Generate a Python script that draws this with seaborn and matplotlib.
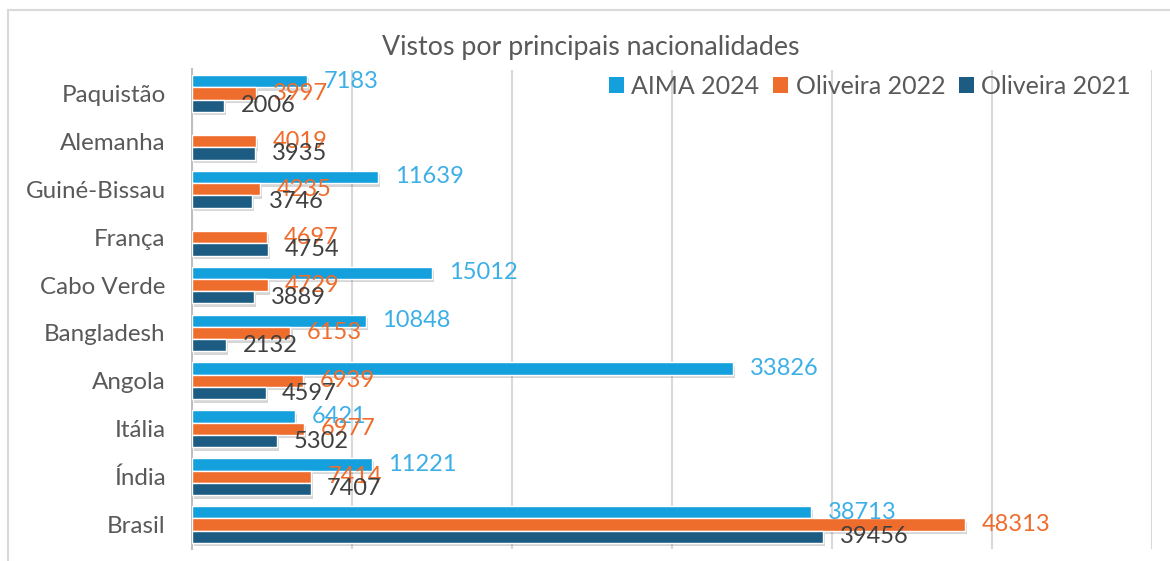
import numpy as np
import pandas as pd
import matplotlib
matplotlib.use("Agg")
import matplotlib.pyplot as plt
import matplotlib.patheffects as pe
from matplotlib.patches import Patch, Rectangle
import seaborn as sns

categories = ["Paquistão", "Alemanha", "Guiné-Bissau", "França", "Cabo Verde",
              "Bangladesh", "Angola", "Itália", "Índia", "Brasil"]
series_names = ["AIMA 2024", "Oliveira 2022", "Oliveira 2021"]
aima_2024 = [7183, np.nan, 11639, np.nan, 15012, 10848, 33826, 6421, 11221, 38713]
oliveira_2022 = [3997, 4019, 4235, 4697, 4729, 6153, 6939, 6977, 7414, 48313]
oliveira_2021 = [2006, 3935, 3746, 4754, 3889, 2132, 4597, 5302, 7407, 39456]

bar_colors = ["#14A0DC", "#EE6C2C", "#1D5C82"]
label_colors = ["#3CAFE6", "#EE6C2C", "#404040"]
text_grey = "#595959"

df = pd.DataFrame({
    "pais": categories * 3,
    "serie": [s for s in series_names for _ in categories],
    "vistos": aima_2024 + oliveira_2022 + oliveira_2021,
}).dropna()

sns.set_style("white")
plt.rcParams["font.family"] = ["Lato", "DejaVu Sans"]

fig = plt.figure(figsize=(11.7, 5.61), dpi=100)
ax = fig.add_axes([192 / 1170, 1 - 548.5 / 561, 960 / 1170, 479 / 561])

sns.barplot(data=df, y="pais", x="vistos", hue="serie", order=categories,
            hue_order=series_names, palette=bar_colors, orient="h",
            width=0.77, saturation=1, errorbar=None, ax=ax, legend=False,
            zorder=3)

# soft drop shadow under the bars, like the Excel style
shadow = [pe.SimplePatchShadow(offset=(1.5, -2.5), shadow_rgbFace="black", alpha=0.16), pe.Normal()]
for container, col in zip(ax.containers, label_colors):
    for bar in container:
        bar.set_path_effects(shadow)
    ax.bar_label(container, fmt="{:.0f}", padding=12, color=col, fontsize=17)

ax.set_xlim(0, 60000)
ax.set_xticks(range(0, 60001, 10000))
ax.set_xticklabels([])
ax.grid(axis="x", color="#D9D9D9", linewidth=1.5, zorder=0)
ax.set_axisbelow(True)
ax.set_xlabel("")
ax.set_ylabel("")
ax.tick_params(axis="both", length=0)
ax.tick_params(axis="y", pad=19, labelsize=17.4, labelcolor=text_grey)
for side in ["top", "right", "bottom"]:
    ax.spines[side].set_visible(False)
ax.spines["left"].set_color("#BFBFBF")
ax.spines["left"].set_linewidth(1.5)

handles = [Patch(facecolor=c, edgecolor="none") for c in bar_colors]
ax.legend(handles, series_names, loc="center right",
          bbox_to_anchor=(1 - 6 / 960, 1 - 17 / 479),
          ncol=3, frameon=False, fontsize=18, labelcolor=text_grey,
          handlelength=0.6, handleheight=0.6, handletextpad=0.3, columnspacing=0.55,
          borderaxespad=0.2)

fig.text(591 / 1170, 1 - 48 / 561, "Vistos por principais nacionalidades",
         ha="center", va="center", fontsize=19.3, color=text_grey)

fig.patches.append(Rectangle((8 / 1170, -0.1), 1.2, 1.1 - 10 / 561,
                             transform=fig.transFigure, fill=False,
                             edgecolor="#D9D9D9", linewidth=1.5))

fig.savefig("out.png", dpi=100, facecolor="white")
